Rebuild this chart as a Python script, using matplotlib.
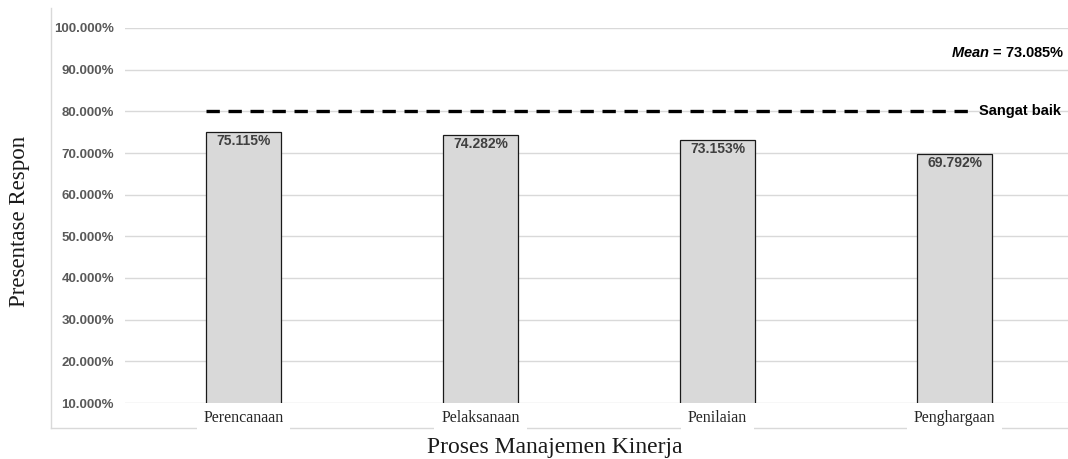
import matplotlib.pyplot as plt
from matplotlib.lines import Line2D

# data
categories = ['Perencanaan', 'Pelaksanaan', 'Penilaian', 'Penghargaan']
values = [75.115, 74.282, 73.153, 69.792]
threshold = 80.0
threshold_label = 'Sangat baik'
mean_value = 73.085
yticks = [10, 20, 30, 40, 50, 60, 70, 80, 90, 100]

plt.rcParams['mathtext.fontset'] = 'custom'
plt.rcParams['mathtext.bfit'] = 'Liberation Sans:italic:bold'

W, H = 1068, 459
fig = plt.figure(figsize=(W / 100, H / 100), dpi=100)
ax = fig.add_axes([125 / W, 56 / H, 948 / W, 375 / H])

x = list(range(len(categories)))
ax.bar(x, values, width=0.316, bottom=0, color='#d9d9d9',
       edgecolor='#1a1a1a', linewidth=0.9, zorder=3)

for xi, v in zip(x, values):
    ax.text(xi, v - 0.5, '%.3f%%' % v, ha='center', va='top',
            fontsize=10, fontweight='bold', color='#404040',
            family='Liberation Sans', zorder=4)

# dashed "Sangat baik" reference line
ax.plot([-0.16, 3.09], [threshold, threshold], color='black',
        linestyle=(0, (4, 2.6)), linewidth=2.4, zorder=4)
ax.text(3.105, threshold, threshold_label, ha='left', va='center',
        fontsize=10.5, fontweight='bold', color='black',
        family='Liberation Sans')

ax.text(3.465, 94.0, r'$\mathbfit{Mean}$' + ' = %.3f%%' % mean_value,
        ha='right', va='center', fontsize=10.5, fontweight='bold',
        family='Liberation Sans')

ax.set_xlim(-0.5, 3.5)
ax.set_ylim(10, 100)
ax.set_yticks(yticks)
ax.set_yticklabels(['%.3f%%' % t for t in yticks], fontsize=9.5,
                   fontweight='bold', color='#595959',
                   family='Liberation Sans')
ax.set_xticks(x)
ax.set_xticklabels(categories, fontsize=11.5, family='Liberation Serif',
                   color='#262626')
for lbl in ax.get_xticklabels():
    lbl.set_bbox(dict(facecolor='white', edgecolor='none', pad=5))
    lbl.set_zorder(5)
ax.tick_params(axis='both', length=0)
ax.tick_params(axis='y', pad=8)
ax.tick_params(axis='x', pad=5)

ax.grid(axis='y', color='#d9d9d9', linewidth=1, zorder=0)
for s in ax.spines.values():
    s.set_visible(False)

# outer chart-area frame (left and bottom edges)
fig.add_artist(Line2D([51 / W, 51 / W], [1 - 8 / H, 1 - 428 / H],
                      color='#d9d9d9', linewidth=1, zorder=0))
fig.add_artist(Line2D([51 / W, 1.0], [1 - 428 / H, 1 - 428 / H],
                      color='#d9d9d9', linewidth=1, zorder=0))

fig.text(20 / W, 1 - 221 / H, 'Presentase Respon', rotation=90,
         ha='center', va='center', fontsize=16.5,
         family='Liberation Serif', color='#1a1a1a')
fig.text(555 / W, 1 - 447 / H, 'Proses Manajemen Kinerja',
         ha='center', va='center', fontsize=17, family='Liberation Serif',
         color='#1a1a1a')

fig.savefig('out.png', dpi=100)
